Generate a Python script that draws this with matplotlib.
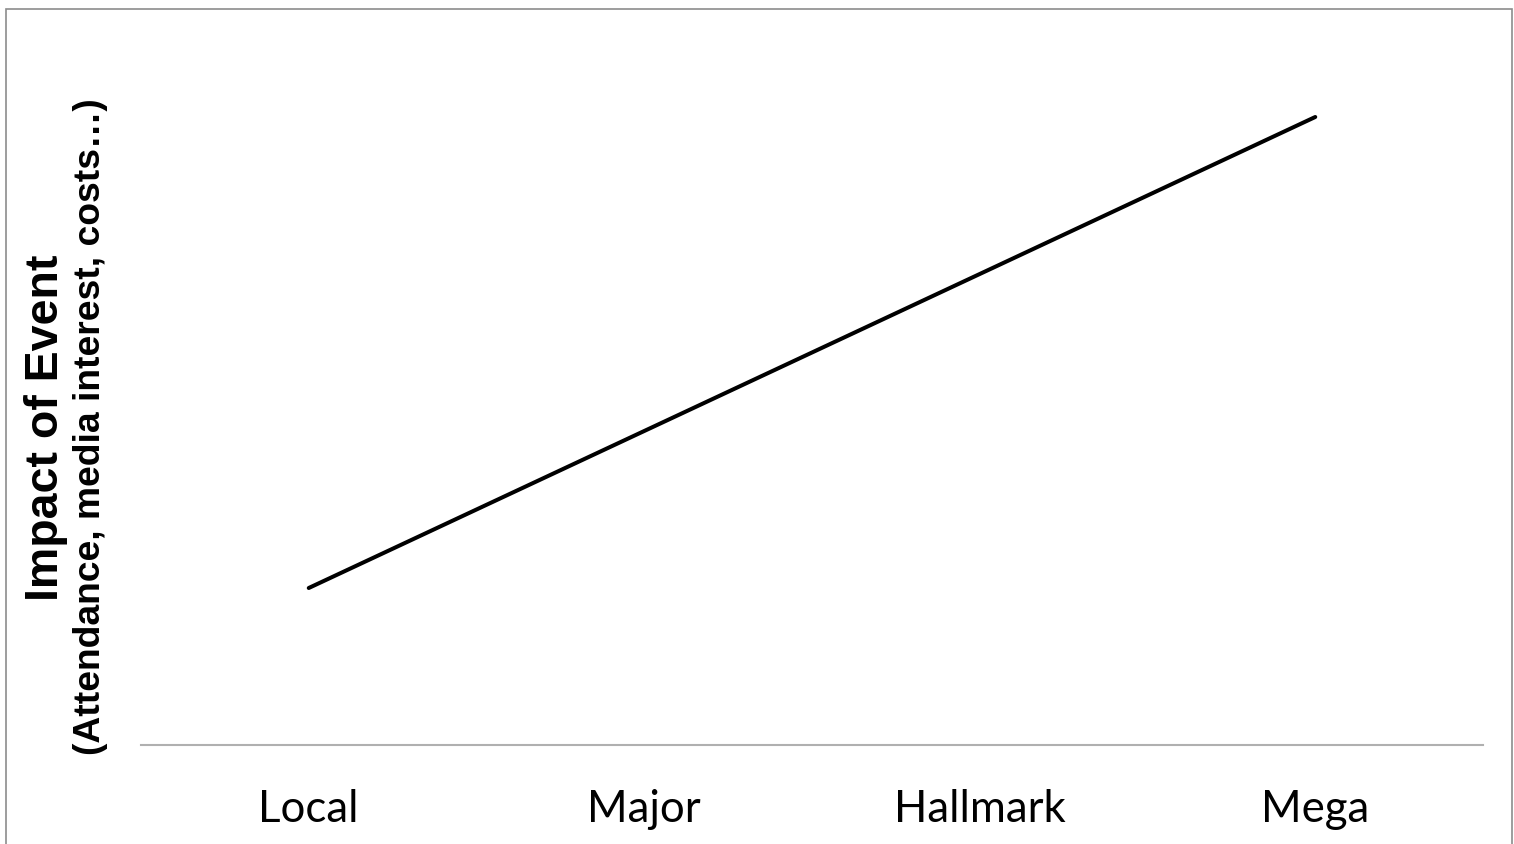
import matplotlib
matplotlib.use("Agg")
import matplotlib.pyplot as plt
from matplotlib.patches import Rectangle

# chart data
categories = ["Local", "Major", "Hallmark", "Mega"]
impact = [1, 2, 3, 4]
x_pos = [0.5, 1.5, 2.5, 3.5]

W, H = 1514, 844
fig = plt.figure(figsize=(W / 100, H / 100), dpi=100)

# axes placed in pixels
left, right, bottom, top = 141, 1483, 745, 38.5
ax = fig.add_axes([left / W, (H - bottom) / H, (right - left) / W, (bottom - top) / H])

ax.plot(x_pos, impact, color="black", linewidth=2.9, solid_capstyle="round")
ax.set_xlim(0, 4)
ax.set_ylim(0, 4.5)

for s in ["top", "right", "left"]:
    ax.spines[s].set_visible(False)
ax.spines["bottom"].set_color("#b0b0b0")
ax.spines["bottom"].set_linewidth(1.5)
ax.set_yticks([])
ax.set_xticks(x_pos)
ax.set_xticklabels(categories, fontfamily="Lato", fontsize=31.5)
ax.tick_params(axis="x", length=0, pad=32)

# y axis title, two lines
fig.text(46 / W, (H - 428) / H, "Impact of Event", rotation=90, ha="center", va="center",
         fontfamily="Liberation Sans", fontweight="bold", fontsize=33.5)
fig.text(91 / W, (H - 427) / H, "(Attendance, media interest, costs…)", rotation=90,
         ha="center", va="center", fontfamily="Liberation Sans", fontweight="bold", fontsize=26.8)

# outer frame (bottom edge runs off the image)
fig.patches.append(Rectangle((6 / W, -0.1), (1512 - 6) / W, (H - 9) / H + 0.1,
                             transform=fig.transFigure, fill=False,
                             edgecolor="#8c8c8c", linewidth=1.2))

fig.savefig("out.png", dpi=100)
